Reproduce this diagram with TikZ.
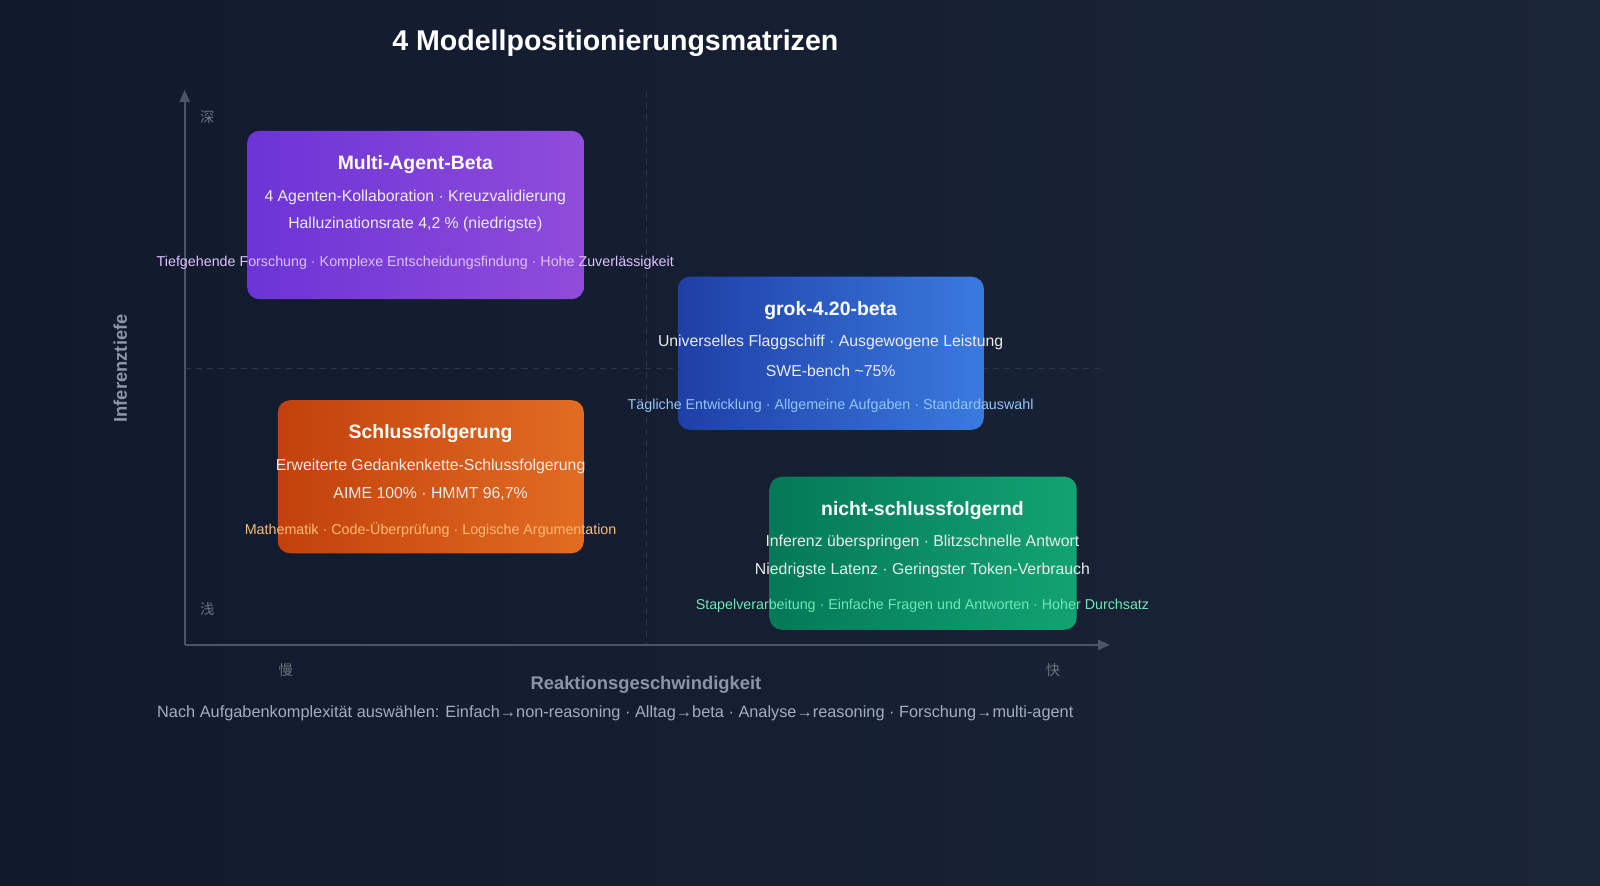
\documentclass[tikz,border=0pt]{standalone}
\usepackage{fontspec}
\setmainfont{Liberation Sans}
\newfontfamily\cjk{Noto Sans CJK SC}
\usetikzlibrary{arrows.meta}
\definecolor{axisc}{HTML}{4A5568}
\definecolor{gridc}{HTML}{2D3748}
\definecolor{lblc}{HTML}{6B7280}
\definecolor{axtxt}{HTML}{8A96A8}
\definecolor{foot}{HTML}{A0AEC0}
\definecolor{bgA}{HTML}{111A2C}
\definecolor{bgB}{HTML}{1B2538}
\definecolor{maA}{HTML}{6C34D6}
\definecolor{maB}{HTML}{904CDA}
\definecolor{maT}{HTML}{DDC2FF}
\definecolor{gbA}{HTML}{1E3FA6}
\definecolor{gbB}{HTML}{3A7ADF}
\definecolor{gbT}{HTML}{93C5FD}
\definecolor{rsA}{HTML}{C2410C}
\definecolor{rsB}{HTML}{E26C22}
\definecolor{rsT}{HTML}{FDBA74}
\definecolor{nrA}{HTML}{047857}
\definecolor{nrB}{HTML}{12A372}
\definecolor{nrT}{HTML}{6EE7B7}
\tikzset{
  box/.style={rounded corners=12pt, inner sep=0pt, anchor=north west},
  ttl/.style={text=white, font=\bfseries\fontsize{19}{22}\selectfont},
  ln/.style={text=white!92!black, font=\fontsize{15.5}{18}\selectfont},
  tag/.style={font=\fontsize{14}{16}\selectfont},
  cj/.style={text=lblc, font=\cjk\fontsize{14}{16}\selectfont},
  axl/.style={text=axtxt, font=\bfseries\fontsize{18}{20}\selectfont},
}
\begin{document}
\begin{tikzpicture}[x=1pt,y=-1pt]
\shade[left color=bgA, right color=bgB] (0,0) rectangle (1568,868);
\useasboundingbox (0,0) rectangle (1568,868);
\node[text=white, font=\bfseries\fontsize{28}{32}\selectfont] (title) at (603,42) {4 Modellpositionierungsmatrizen};
% grid
\coordinate (vt) at (633,90); \coordinate (vb) at (633,632);
\coordinate (hl) at (181,361); \coordinate (hr) at (1080,361);
\draw[gridc, dash pattern=on 6pt off 5pt, line width=0.8pt] (vt) -- (vb);
\draw[gridc, dash pattern=on 6pt off 5pt, line width=0.8pt] (hl) -- (hr);
% axes
\coordinate (o) at (181,632); \coordinate (yt) at (181,88); \coordinate (xr) at (1088,632);
\draw[axisc, line width=2pt, -{Triangle[length=12pt,width=10pt]}] (o) -- (yt);
\draw[axisc, line width=2pt, -{Triangle[length=12pt,width=10pt]}] (o) -- (xr);
\node[cj] (deep) at (203,115) {深};
\node[cj] (shallow) at (203,597) {浅};
\node[cj] (slow) at (280,657) {慢};
\node[cj] (fast) at (1032,657) {快};
\node[axl, rotate=90] (ylab) at (118,361) {Inferenztiefe};
\node[axl] (xlab) at (633,671) {Reaktionsgeschwindigkeit};
\node[text=foot, font=\fontsize{16}{18}\selectfont] (foot) at (603,699) {Nach Aufgabenkomplexität auswählen: Einfach→non-reasoning · Alltag→beta · Analyse→reasoning · Forschung→multi-agent};
% boxes
\node[box, minimum width=330pt, minimum height=165pt, left color=maA, right color=maB] (ma) at (242,128) {};
\node[ttl] (mat) at (407,161) {Multi-Agent-Beta};
\node[ln] (ma1) at (407,193) {4 Agenten-Kollaboration · Kreuzvalidierung};
\node[ln] (ma2) at (407,220) {Halluzinationsrate 4,2 \% (niedrigste)};
\node[tag, text=maT] (ma3) at (407,258) {Tiefgehende Forschung · Komplexe Entscheidungsfindung · Hohe Zuverlässigkeit};

\node[box, minimum width=300pt, minimum height=150pt, left color=gbA, right color=gbB] (gb) at (664,271) {};
\node[ttl] (gbt) at (814,304) {grok-4.20-beta};
\node[ln] (gb1) at (814,336) {Universelles Flaggschiff · Ausgewogene Leistung};
\node[ln] (gb2) at (814,363) {SWE-bench \textasciitilde75\%};
\node[tag, text=gbT] (gb3) at (814,398) {Tägliche Entwicklung · Allgemeine Aufgaben · Standardauswahl};

\node[box, minimum width=300pt, minimum height=150pt, left color=rsA, right color=rsB] (rs) at (272,392) {};
\node[ttl] (rst) at (422,425) {Schlussfolgerung};
\node[ln] (rs1) at (422,457) {Erweiterte Gedankenkette-Schlussfolgerung};
\node[ln] (rs2) at (422,484) {AIME 100\% · HMMT 96,7\%};
\node[tag, text=rsT] (rs3) at (422,519) {Mathematik · Code-Überprüfung · Logische Argumentation};

\node[box, minimum width=301pt, minimum height=150pt, left color=nrA, right color=nrB] (nr) at (754,467) {};
\node[ttl] (nrt) at (904,500) {nicht-schlussfolgernd};
\node[ln] (nr1) at (904,532) {Inferenz überspringen · Blitzschnelle Antwort};
\node[ln] (nr2) at (904,559) {Niedrigste Latenz · Geringster Token-Verbrauch};
\node[tag, text=nrT] (nr3) at (904,594) {Stapelverarbeitung · Einfache Fragen und Antworten · Hoher Durchsatz};
\end{tikzpicture}
\end{document}
